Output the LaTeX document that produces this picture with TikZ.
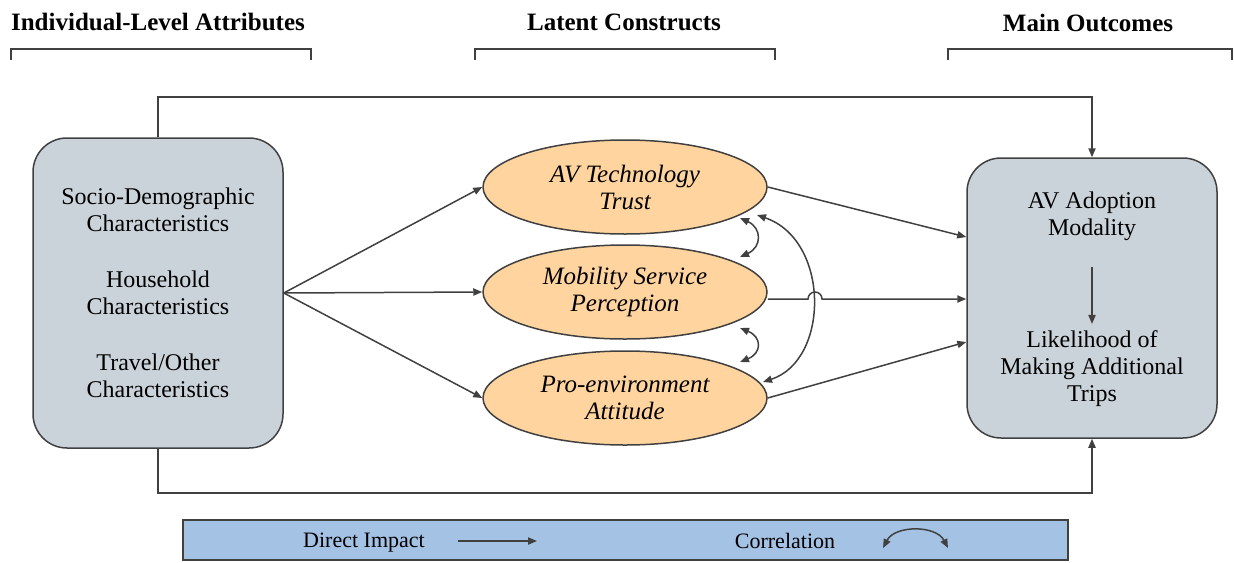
\documentclass[tikz,border=0pt]{standalone}
\usepackage{fontspec}
\setmainfont{Liberation Serif}
\usetikzlibrary{arrows.meta,shapes.geometric}
\definecolor{linegray}{HTML}{404040}
\definecolor{boxgray}{HTML}{CBD3DA}
\definecolor{latentfill}{HTML}{FFD49E}
\definecolor{legendblue}{HTML}{A4C2E4}
\tikzset{
  arr/.style={draw=linegray,line width=0.75pt,-{Triangle[length=4.5pt,width=3.6pt]}},
  corr/.style={draw=linegray,line width=0.75pt,{Triangle[length=4.5pt,width=3.6pt]}-{Triangle[length=4.5pt,width=3.6pt]}},
  bracket/.style={draw=linegray,line width=0.6pt},
  header/.style={font=\bfseries\fontsize{12.5}{15}\selectfont},
  bigbox/.style={draw=linegray,line width=0.75pt,fill=boxgray,rounded corners=17pt,
    minimum width=125pt,align=center,font=\fontsize{12}{13.5}\selectfont},
  latent/.style={ellipse,draw=linegray,line width=0.75pt,fill=latentfill,inner sep=0pt,
    minimum width=142pt,minimum height=47pt,align=center,font=\itshape\fontsize{12.5}{13.5}\selectfont},
  plain/.style={align=center,font=\fontsize{12}{13.5}\selectfont}
}
\begin{document}
\begin{tikzpicture}[x=0.5pt,y=-0.5pt]
\useasboundingbox (0,0) rectangle (1234,562);
% column headers
\node[header] (hattr) at (158,22) {Individual-Level Attributes};
\node[header] (hlat) at (624,22) {Latent Constructs};
\node[header] (hout) at (1088,23) {Main Outcomes};
\draw[bracket] (11,60) -- (11,49) -- (311,49) -- (311,60);
\draw[bracket] (475,60) -- (475,49) -- (775,49) -- (775,60);
\draw[bracket] (948,60) -- (948,49) -- (1232,49) -- (1232,60);
% attributes
\node[bigbox,minimum height=155pt] (src) at (158,293)
  {Socio-Demographic\\Characteristics\\[14.5pt]Household\\Characteristics\\[14.5pt]Travel/Other\\Characteristics};
% latent constructs
\node[latent] (tech) at (625,187) {AV Technology\\Trust};
\node[latent] (mob) at (625,292) {Mobility Service\\Perception};
\node[latent] (pro) at (625,398) {Pro-environment\\Attitude};
% outcomes
\node[bigbox,minimum height=140pt] (outc) at (1092,298) {};
\node[plain] (adopt) at (1092,216) {AV Adoption\\Modality};
\node[plain] (trips) at (1092,369) {Likelihood of\\Making Additional\\Trips};
\draw[arr,shorten <=10pt] (adopt.south) -- (trips.north);
% direct impacts
\draw[arr] (src.east) -- (tech.west);
\draw[arr] (src.east) -- (mob.west);
\draw[arr] (src.east) -- (pro.west);
\draw[arr] (tech.east) -- ([yshift=30.5pt]outc.west);
\coordinate (hopA) at (808,299);
\draw[arr] (mob.east|-hopA) -- (hopA) arc[start angle=180,end angle=0,radius=3.5pt] -- (outc.west|-hopA);
\draw[arr] (pro.east) -- ([yshift=-22pt]outc.west);
\draw[arr] (src.north) -- (src.north|-0,97) -| (outc.north);
\draw[arr] (src.south) -- (src.south|-0,493) -| (outc.south);
% correlations
\draw[corr] (740,218) .. controls (762,228) and (762,247) .. (740,257);
\draw[corr] (740,328) .. controls (762,337) and (762,353) .. (740,362);
\draw[corr] (757,215) .. controls (830,240) and (830,360) .. (763,382);
% legend
\node[draw=linegray,line width=0.75pt,fill=legendblue,minimum width=442.5pt,minimum height=20pt] (legend) at (625.5,540) {};
\node[font=\fontsize{11}{13}\selectfont] (ldirect) at (364,543) {Direct Impact};
\node[font=\fontsize{11}{13}\selectfont] (lcorr) at (785,541) {Correlation};
\coordinate (da) at (458,541);
\coordinate (db) at (537,541);
\draw[arr] (da) -- (db);
\coordinate (ca) at (883,548);
\coordinate (cb) at (948,548);
\draw[corr] (ca) .. controls (895,525) and (936,525) .. (cb);
\end{tikzpicture}
\end{document}
